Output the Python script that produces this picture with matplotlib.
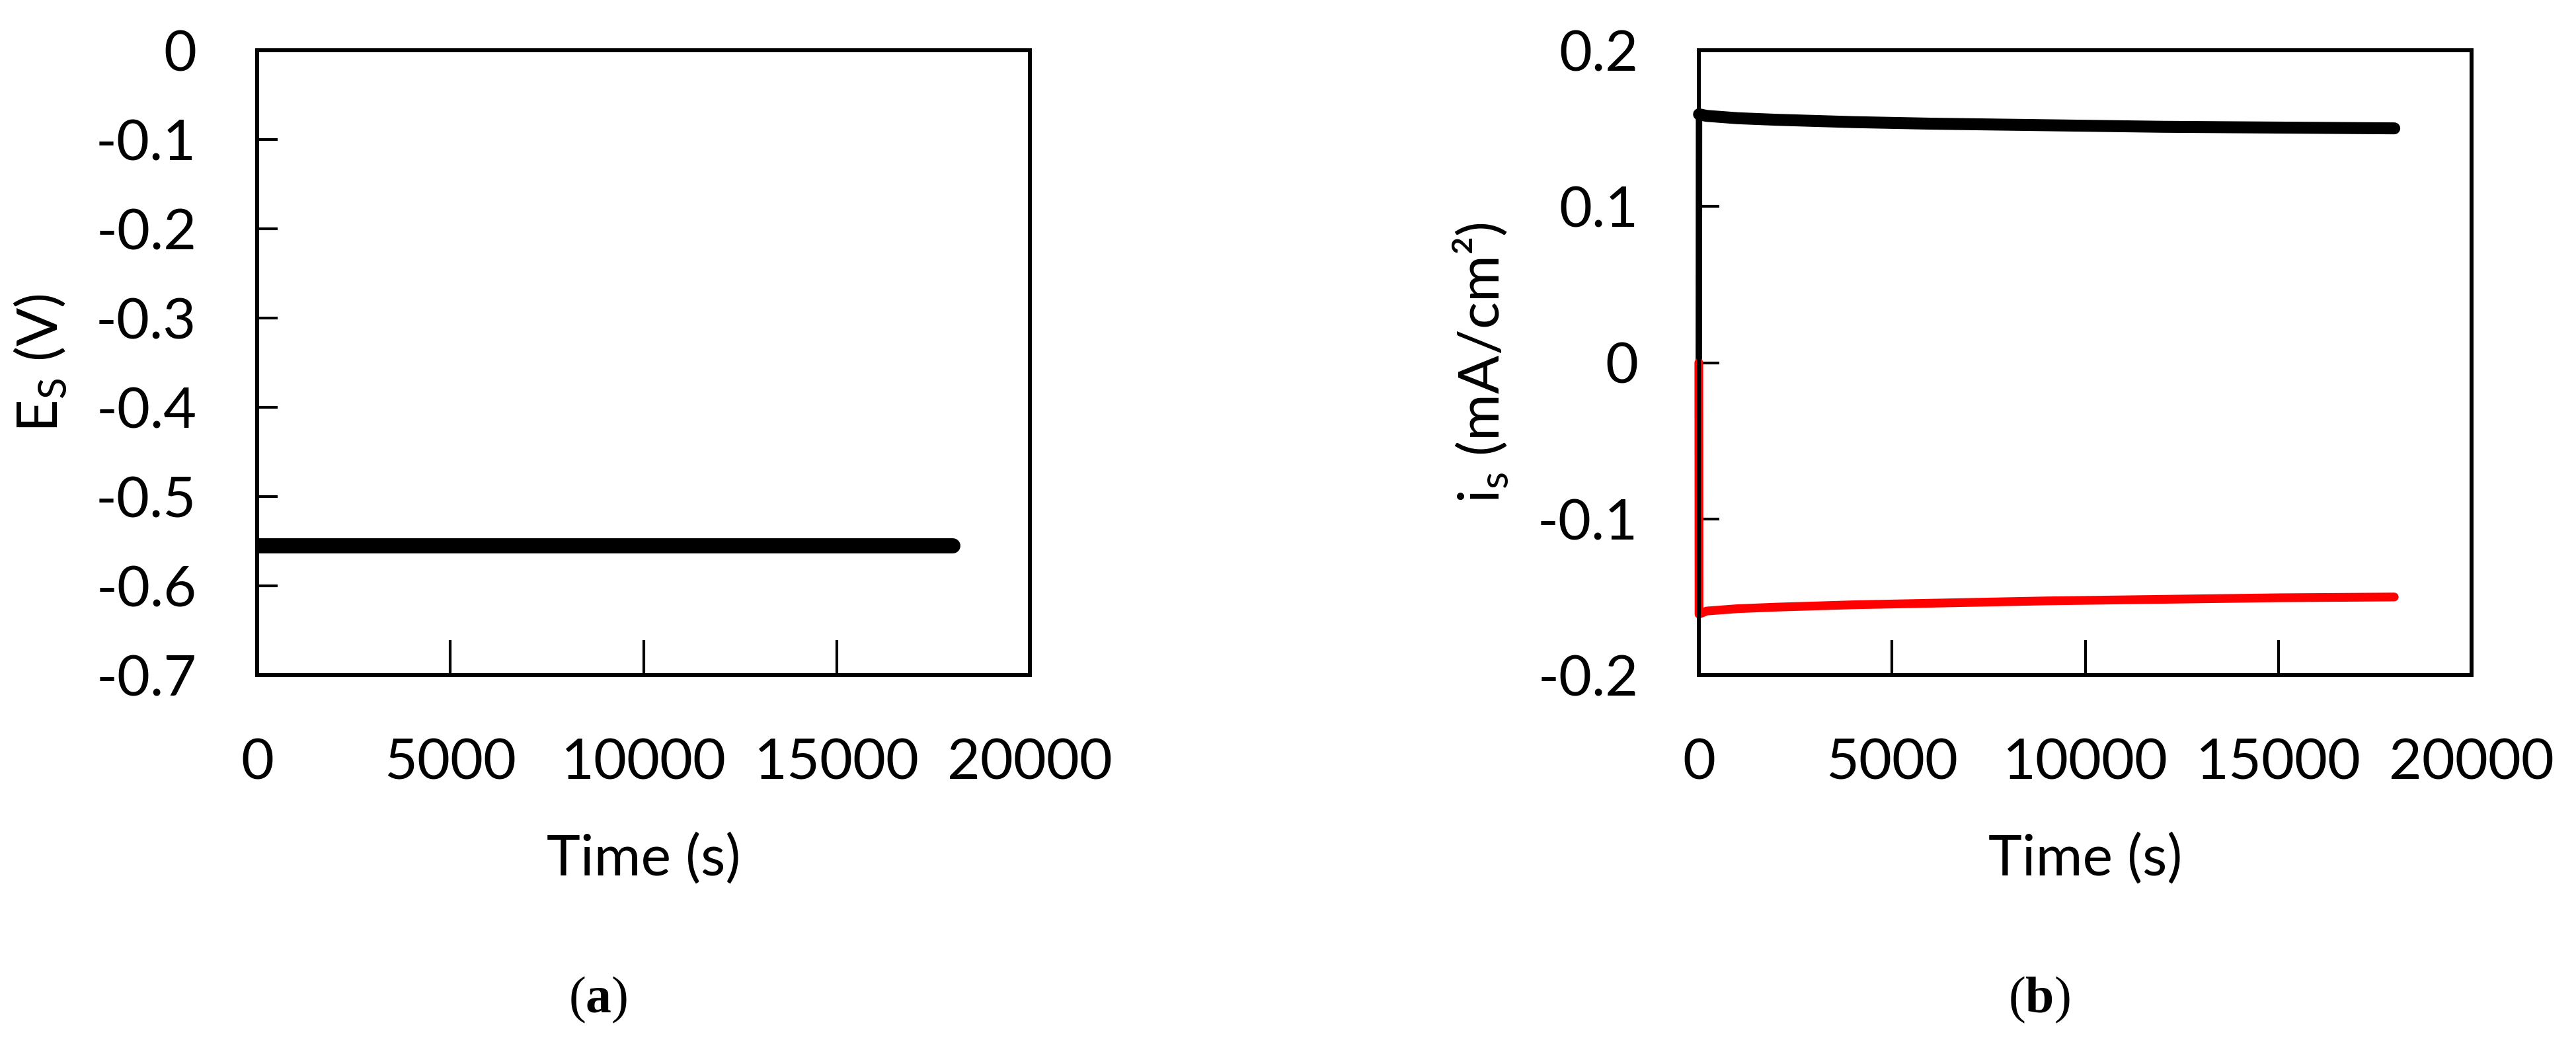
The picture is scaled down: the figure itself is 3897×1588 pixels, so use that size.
import numpy as np
import matplotlib
matplotlib.use('Agg')
import matplotlib.pyplot as plt

plt.rcParams['font.family'] = ['Lato', 'DejaVu Sans']
plt.rcParams['mathtext.fontset'] = 'custom'
plt.rcParams['mathtext.rm'] = 'Liberation Serif'
plt.rcParams['mathtext.bf'] = 'Liberation Serif:bold'

# (a) potential vs time
time_a = [0, 18000]
potential = [-0.555, -0.555]

# (b) current density vs time
time_b = [0, 5, 200, 1000, 2000, 4000, 6000, 9000, 12000, 15000, 18000]
i_anodic = [0.0, 0.159, 0.158, 0.1565, 0.1555, 0.154, 0.153, 0.152, 0.151, 0.1505, 0.150]
i_cathodic = [0.0, -0.161, -0.159, -0.1575, -0.1565, -0.155, -0.154, -0.1525, -0.1515, -0.1505, -0.150]

x_ticks = [0, 5000, 10000, 15000, 20000]
y_ticks_a = [0, -0.1, -0.2, -0.3, -0.4, -0.5, -0.6, -0.7]
y_ticks_b = [0.2, 0.1, 0, -0.1, -0.2]

FS = 62

fig = plt.figure(figsize=(38.97, 15.88), dpi=100)
ax1 = fig.add_axes([389 / 3897, 1 - 1021 / 1588, 1169 / 3897, 945 / 1588])
ax2 = fig.add_axes([2570 / 3897, 1 - 1021 / 1588, 1169 / 3897, 945 / 1588])


def fmt(v):
    return '0' if v == 0 else f'{v:g}'


def style(ax, yticks):
    for s in ax.spines.values():
        s.set_linewidth(4.3)
    ax.set_xlim(0, 20000)
    ax.set_xticks(x_ticks)
    ax.set_xticklabels([str(t) for t in x_ticks])
    ax.set_yticks(yticks)
    ax.set_yticklabels([fmt(v) for v in yticks])
    ax.tick_params(axis='x', direction='in', length=38, width=3, pad=68, labelsize=FS)
    ax.tick_params(axis='y', direction='in', length=22, width=3, pad=66, labelsize=FS)
    ax.set_xlabel('Time (s)', fontsize=FS, labelpad=48)


ax1.plot(time_a, potential, color='black', lw=16.5, solid_capstyle='round')
ax1.set_ylim(-0.7, 0)
style(ax1, y_ticks_a)
ax1.set_ylabel(r'E$_\mathregular{S}$ (V)', fontsize=FS, labelpad=30)

# initial jump drawn thinner, as in the original
ax2.plot(time_b[:2], i_anodic[:2], color='black', lw=7, clip_on=False)
ax2.plot(time_b[1:], i_anodic[1:], color='black', lw=13, solid_capstyle='round', clip_on=False)
ax2.plot(time_b, i_cathodic, color='#ff0000', lw=9.5, solid_capstyle='round', clip_on=False)
ax2.set_ylim(-0.2, 0.2)
style(ax2, y_ticks_b)
ax2.set_ylabel(r'i$_\mathregular{s}$ (mA/cm²)', fontsize=FS, labelpad=30)

fig.text(905 / 3897, 1 - 1512 / 1588, r'($\mathbf{a}$)', fontsize=56,
         family='Liberation Serif', ha='center', va='center')
fig.text(3085 / 3897, 1 - 1512 / 1588, r'($\mathbf{b}$)', fontsize=56,
         family='Liberation Serif', ha='center', va='center')

fig.savefig('out.png', dpi=100)
